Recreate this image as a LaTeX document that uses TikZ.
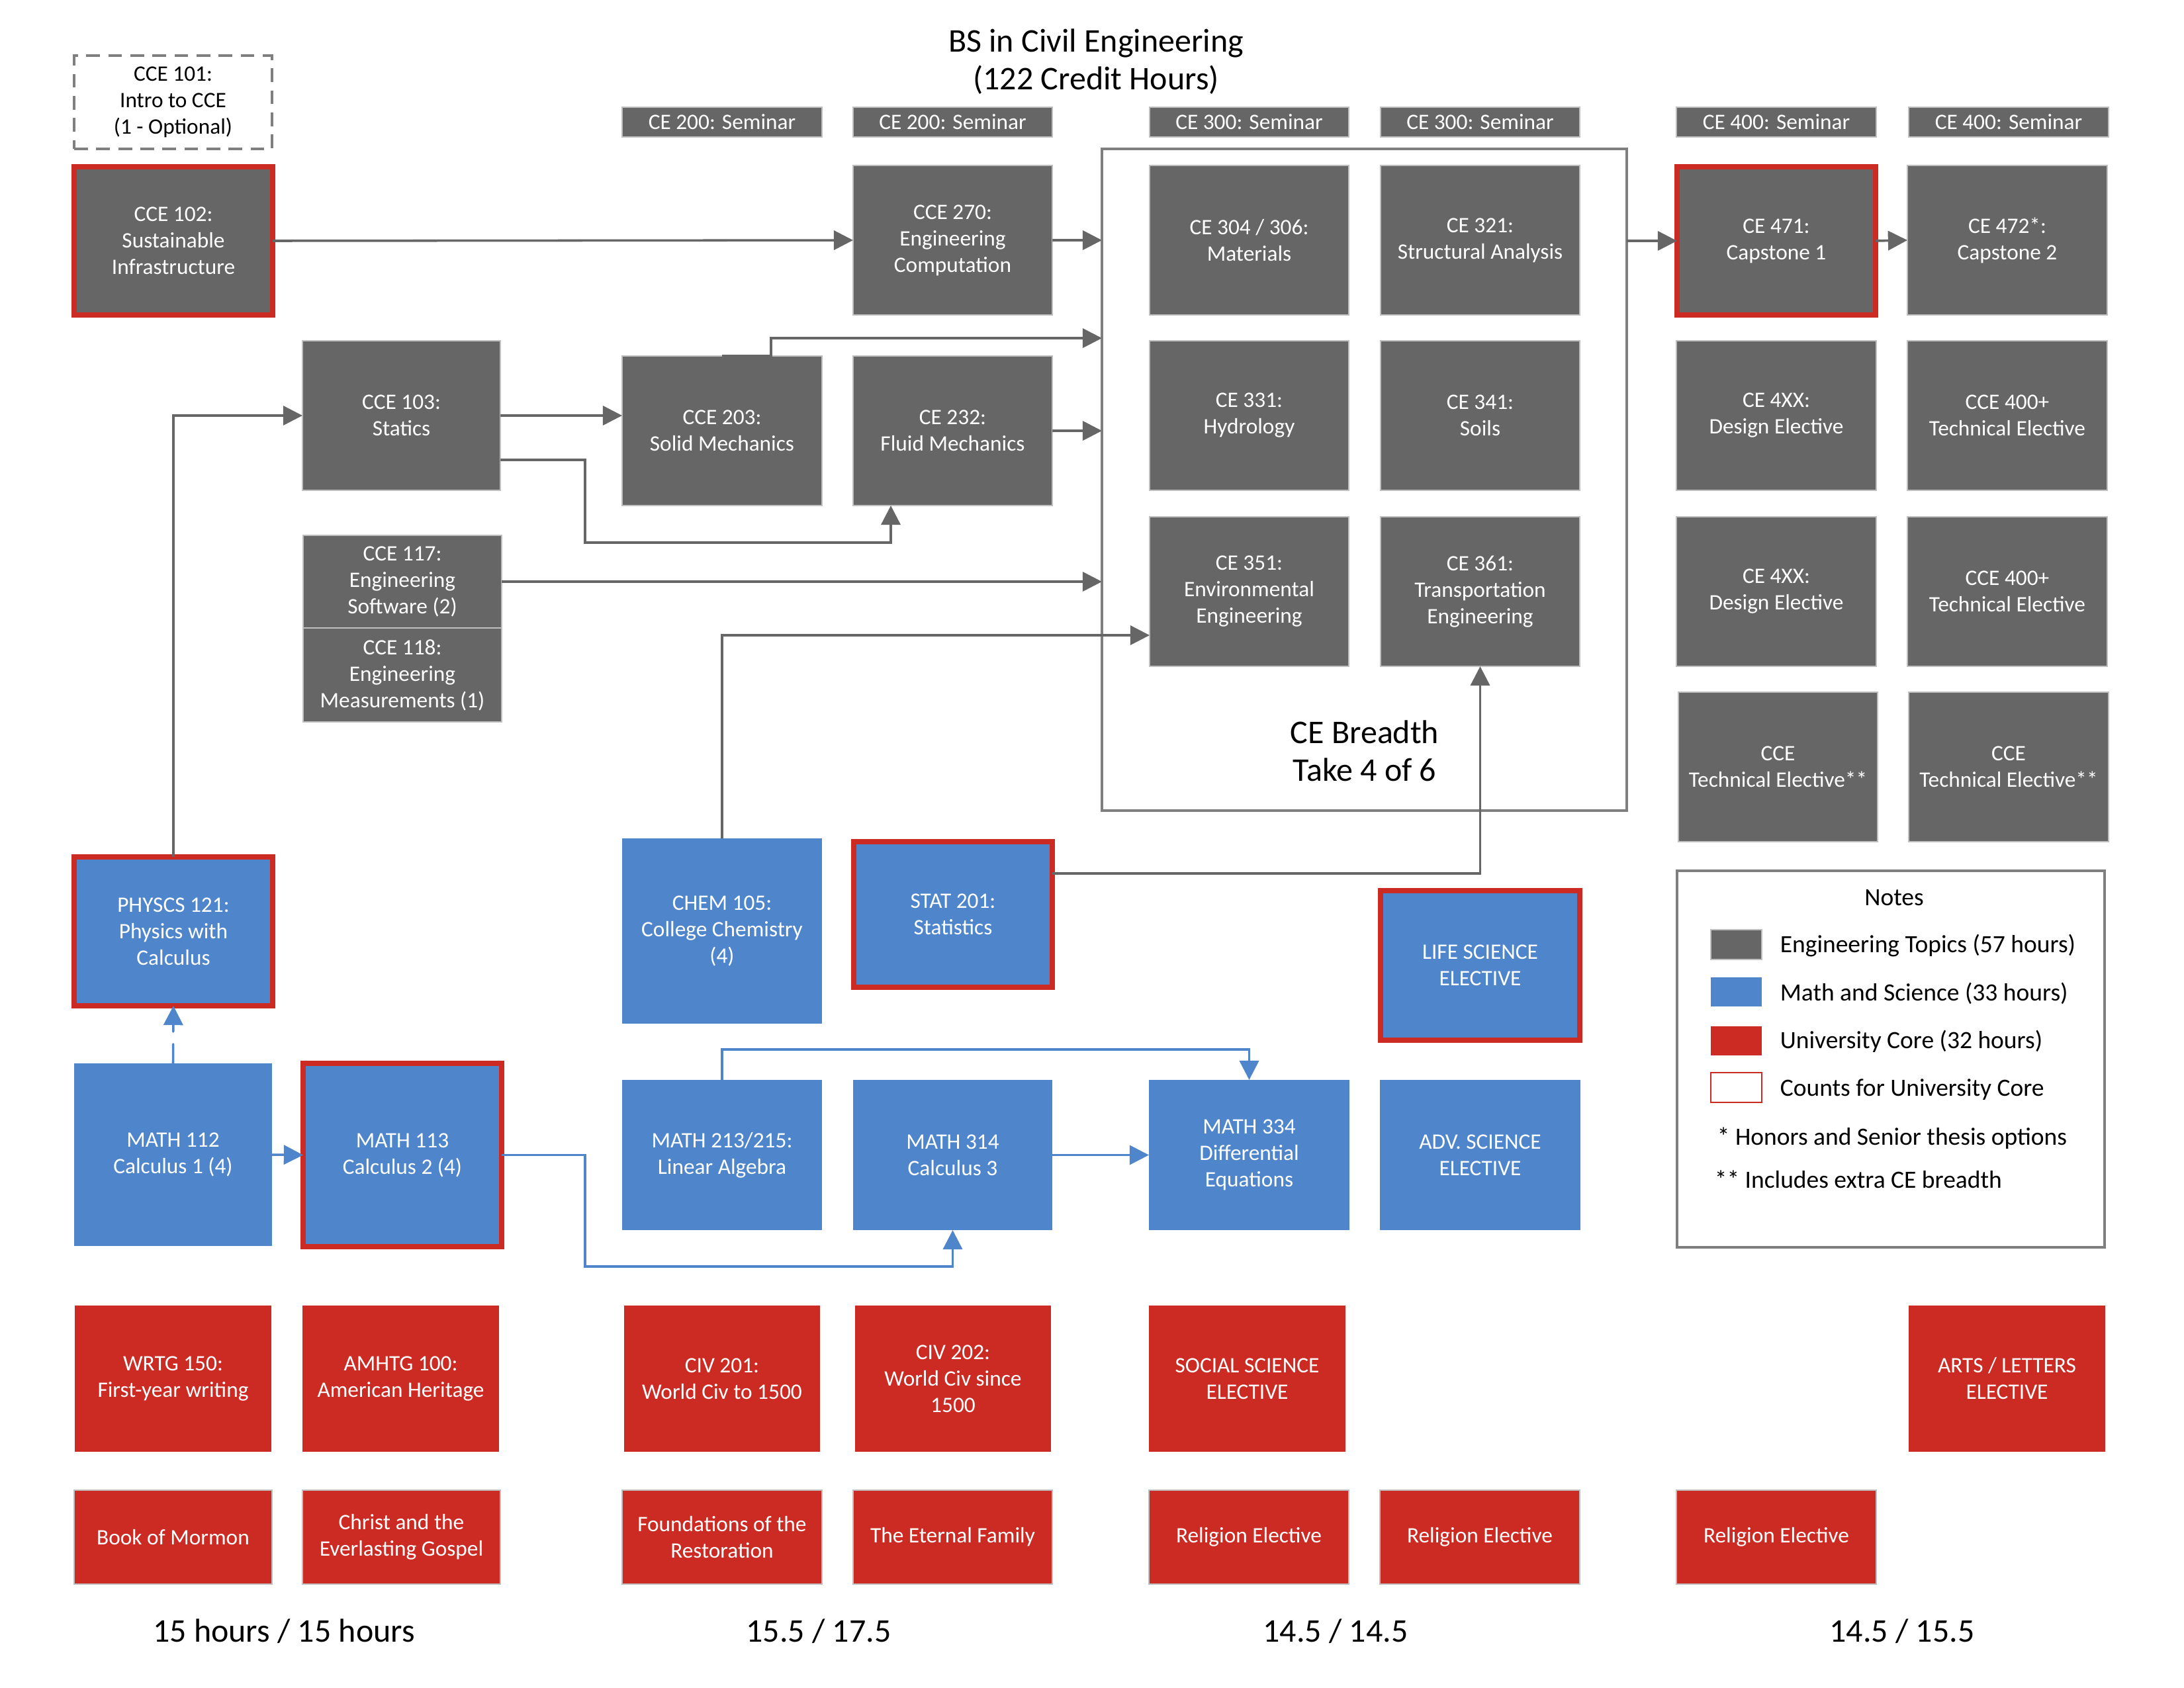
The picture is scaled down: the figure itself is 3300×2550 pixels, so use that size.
\documentclass[tikz,border=0pt]{standalone}
\usepackage{fontspec}
\setmainfont{Carlito}
\usetikzlibrary{arrows.meta}
\definecolor{eg}{HTML}{666666}
\definecolor{lg}{HTML}{BFBFBF}
\definecolor{bl}{RGB}{79,134,203}
\definecolor{rd}{RGB}{204,43,36}
\definecolor{gb}{HTML}{7F7F7F}
\newcommand\bx[7]{\node[#1, minimum width={(#5-#3)*0.24pt}, minimum height={(#6-#4)*0.24pt}] (#2) at ({(#3+#5)/2},{(#4+#6)/2}) {#7};}
\begin{document}
\begin{tikzpicture}[x=0.24pt,y=-0.24pt,
 base/.style={inner sep=0pt, outer sep=0pt, align=center, font=\fontsize{8}{9.6}\selectfont, text=white},
 eng/.style={base, fill=eg, draw=lg, line width=0.7pt},
 sci/.style={base, fill=bl},
 uni/.style={base, fill=rd},
 rel/.style={base, fill=rd, draw=lg, line width=0.7pt},
 core/.style={draw=rd, line width=2pt},
 frame/.style={inner sep=0pt, outer sep=0pt, draw=gb, line width=0.75pt},
 conn/.style={draw=eg, line width=0.85pt, -{Triangle[length=7pt,width=7pt]}},
 bconn/.style={draw=bl, line width=0.85pt, -{Triangle[length=7pt,width=7pt]}},
 big/.style={font=\fontsize{12}{13.7}\selectfont, align=center},
 leg/.style={anchor=west, inner sep=0pt, font=\fontsize{9}{11}\selectfont},
]
\useasboundingbox (0,0) rectangle (3300,2550);

\node[big] (title) at (1656,93) {BS in Civil Engineering\\(122 Credit Hours)};

% seminars
\bx{eng}{s1}{940}{162}{1242}{207}{CE 200: Seminar}
\bx{eng}{s2}{1289}{162}{1590}{207}{CE 200: Seminar}
\bx{eng}{s3}{1737}{162}{2038}{207}{CE 300: Seminar}
\bx{eng}{s4}{2086}{162}{2387}{207}{CE 300: Seminar}
\bx{eng}{s5}{2533}{162}{2835}{207}{CE 400: Seminar}
\bx{eng}{s6}{2884}{162}{3186}{207}{CE 400: Seminar}

% engineering
\bx{base,text=black,draw=gb,line width=0.75pt,dash pattern=on 5pt off 3pt}{c101}{112}{84}{411}{225}{CCE 101:\\Intro to CCE\\(1 - Optional)}
\bx{eng,core}{c102}{112}{252}{412}{476}{CCE 102:\\Sustainable\\Infrastructure}
\bx{eng}{c270}{1289}{250}{1590}{476}{CCE 270:\\Engineering\\Computation}
\bx{eng}{c103}{457}{515}{756}{741}{CCE 103:\\Statics}
\bx{eng}{c203}{940}{538}{1242}{764}{CCE 203:\\Solid Mechanics}
\bx{eng}{c232}{1289}{538}{1590}{764}{CE 232:\\Fluid Mechanics}
\bx{eng}{c117}{458}{809}{758}{949}{CCE 117:\\Engineering\\Software (2)}
\bx{eng}{c118}{458}{949}{758}{1091}{CCE 118:\\Engineering\\Measurements (1)}

\bx{frame}{brd}{1665}{225}{2458}{1225}{}
\bx{eng}{c304}{1737}{250}{2038}{476}{CE 304 / 306:\\Materials}
\bx{eng}{c321}{2086}{250}{2387}{476}{CE 321:\\Structural Analysis}
\bx{eng}{c331}{1737}{515}{2038}{741}{CE 331:\\Hydrology}
\bx{eng}{c341}{2086}{515}{2387}{741}{CE 341:\\Soils}
\bx{eng}{c351}{1737}{781}{2038}{1007}{CE 351:\\Environmental\\Engineering}
\bx{eng}{c361}{2086}{781}{2387}{1007}{CE 361:\\Transportation\\Engineering}
\node[big] (brdt) at (2062,1135) {CE Breadth\\Take 4 of 6};

\bx{eng,core}{c471}{2534}{252}{2834}{476}{CE 471:\\Capstone 1}
\bx{eng}{c472}{2882}{250}{3184}{476}{CE 472*:\\Capstone 2}
\bx{eng}{d1}{2533}{515}{2835}{741}{CE 4XX:\\Design Elective}
\bx{eng}{t1}{2882}{515}{3184}{741}{CCE 400+\\Technical Elective}
\bx{eng}{d2}{2533}{781}{2835}{1007}{CE 4XX:\\Design Elective}
\bx{eng}{t2}{2882}{781}{3184}{1007}{CCE 400+\\Technical Elective}
\bx{eng}{e1}{2536}{1046}{2837}{1272}{CCE\\Technical Elective**}
\bx{eng}{e2}{2884}{1046}{3186}{1272}{CCE\\Technical Elective**}

% math and science
\bx{sci,core}{phys}{112}{1295}{412}{1520}{PHYSCS 121:\\Physics with\\Calculus}
\bx{sci}{chem}{940}{1267}{1242}{1547}{CHEM 105:\\College Chemistry\\(4)}
\bx{sci,core}{stat}{1290}{1272}{1590}{1492}{STAT 201:\\Statistics}
\bx{sci,core}{life}{2086}{1346}{2387}{1572}{LIFE SCIENCE\\ELECTIVE}
\bx{sci}{m112}{112}{1607}{411}{1883}{MATH 112\\Calculus 1 (4)}
\bx{sci,core}{m113}{458}{1607}{758}{1884}{MATH 113\\Calculus 2 (4)}
\bx{sci}{m213}{940}{1632}{1242}{1859}{MATH 213/215:\\Linear Algebra}
\bx{sci}{m314}{1289}{1632}{1590}{1859}{MATH 314\\Calculus 3}
\bx{sci}{m334}{1736}{1632}{2039}{1859}{MATH 334\\Differential\\Equations}
\bx{sci}{adv}{2085}{1632}{2388}{1859}{ADV. SCIENCE\\ELECTIVE}

% university core
\bx{uni}{wrtg}{113}{1973}{410}{2194}{WRTG 150:\\First-year writing}
\bx{uni}{amh}{457}{1973}{754}{2194}{AMHTG 100:\\American Heritage}
\bx{uni}{civa}{943}{1973}{1239}{2194}{CIV 201:\\World Civ to 1500}
\bx{uni}{civb}{1292}{1973}{1588}{2194}{CIV 202:\\World Civ since\\1500}
\bx{uni}{soc}{1736}{1973}{2033}{2194}{SOCIAL SCIENCE\\ELECTIVE}
\bx{uni}{arts}{2884}{1973}{3181}{2194}{ARTS / LETTERS\\ELECTIVE}
\bx{rel}{bom}{112}{2252}{411}{2394}{Book of Mormon}
\bx{rel}{cel}{457}{2252}{756}{2394}{Christ and the\\Everlasting Gospel}
\bx{rel}{fnd}{940}{2252}{1242}{2394}{Foundations of the\\Restoration}
\bx{rel}{fam}{1289}{2252}{1590}{2394}{The Eternal Family}
\bx{rel}{rea}{1736}{2252}{2038}{2394}{Religion Elective}
\bx{rel}{reb}{2085}{2252}{2387}{2394}{Religion Elective}
\bx{rel}{rec}{2533}{2252}{2835}{2394}{Religion Elective}

% hours
\node[big] (ha) at (429,2465) {15 hours / 15 hours};
\node[big] (hb) at (1237,2465) {15.5 / 17.5};
\node[big] (hc) at (2018,2465) {14.5 / 14.5};
\node[big] (hd) at (2874,2465) {14.5 / 15.5};

% notes
\bx{frame}{notes}{2534}{1316}{3180}{1885}{}
\node[font=\fontsize{9}{11}\selectfont] (nt) at (2862,1357) {Notes};
\bx{eng}{la}{2585}{1405}{2662}{1450}{}
\bx{sci}{lb}{2585}{1477}{2662}{1521}{}
\bx{uni}{lc}{2585}{1551}{2662}{1595}{}
\bx{base,draw=rd,line width=0.5pt}{ld}{2585}{1621}{2662}{1666}{}
\node[leg] (lta) at (2689,1429) {Engineering Topics (57 hours)};
\node[leg] (ltb) at (2689,1501) {Math and Science (33 hours)};
\node[leg] (ltc) at (2689,1574) {University Core (32 hours)};
\node[leg] (ltd) at (2689,1647) {Counts for University Core};
\node[leg] (na) at (2594,1720) {* Honors and Senior thesis options};
\node[leg] (nb) at (2590,1782) {** Includes extra CE breadth};

% connectors
\coordinate (y511) at (0,511);
\coordinate (y695) at (0,695);
\coordinate (y960) at (0,960);
\coordinate (y1320) at (0,1320);
\coordinate (x1346) at (1346,0);
\draw[conn] (c102.east) -- (c270.west);
\draw[conn] (c270.east) -- (c270.east -| brd.west);
\draw[conn] (c203.north) -- ++(74,0) |- (brd.west |- y511);
\draw[conn] (c103.east) -- (c103.east -| c203.west);
\draw[conn] (c103.east |- y695) -- (884,695) -- (884,820) -- (1346,820) -- (c232.south -| x1346);
\draw[conn] (c232.east) -- (c232.east -| brd.west);
\draw[conn] (c117.east) -- (c117.east -| brd.west);
\draw[conn] (chem.north) |- (c351.west |- y960);
\draw[conn] (stat.east |- y1320) -| (c361.south);
\draw[conn] (phys.north) |- (c103.west);
\draw[conn] (brd.east |- c471.west) -- (c471.west);
\draw[conn] (c471.east) -- (c472.west);
\draw[bconn, dash pattern=on 7pt off 4.5pt, line cap=round] (m112.north) -- (phys.south);
\draw[bconn] (m112.east) -- (m113.west);
\draw[bconn] (m113.east) -| (884,1914) -| (m314.south);
\draw[bconn] (m213.north) -- ++(0,-46) -| (m334.north);
\draw[bconn] (m314.east) -- (m334.west);
\end{tikzpicture}
\end{document}
